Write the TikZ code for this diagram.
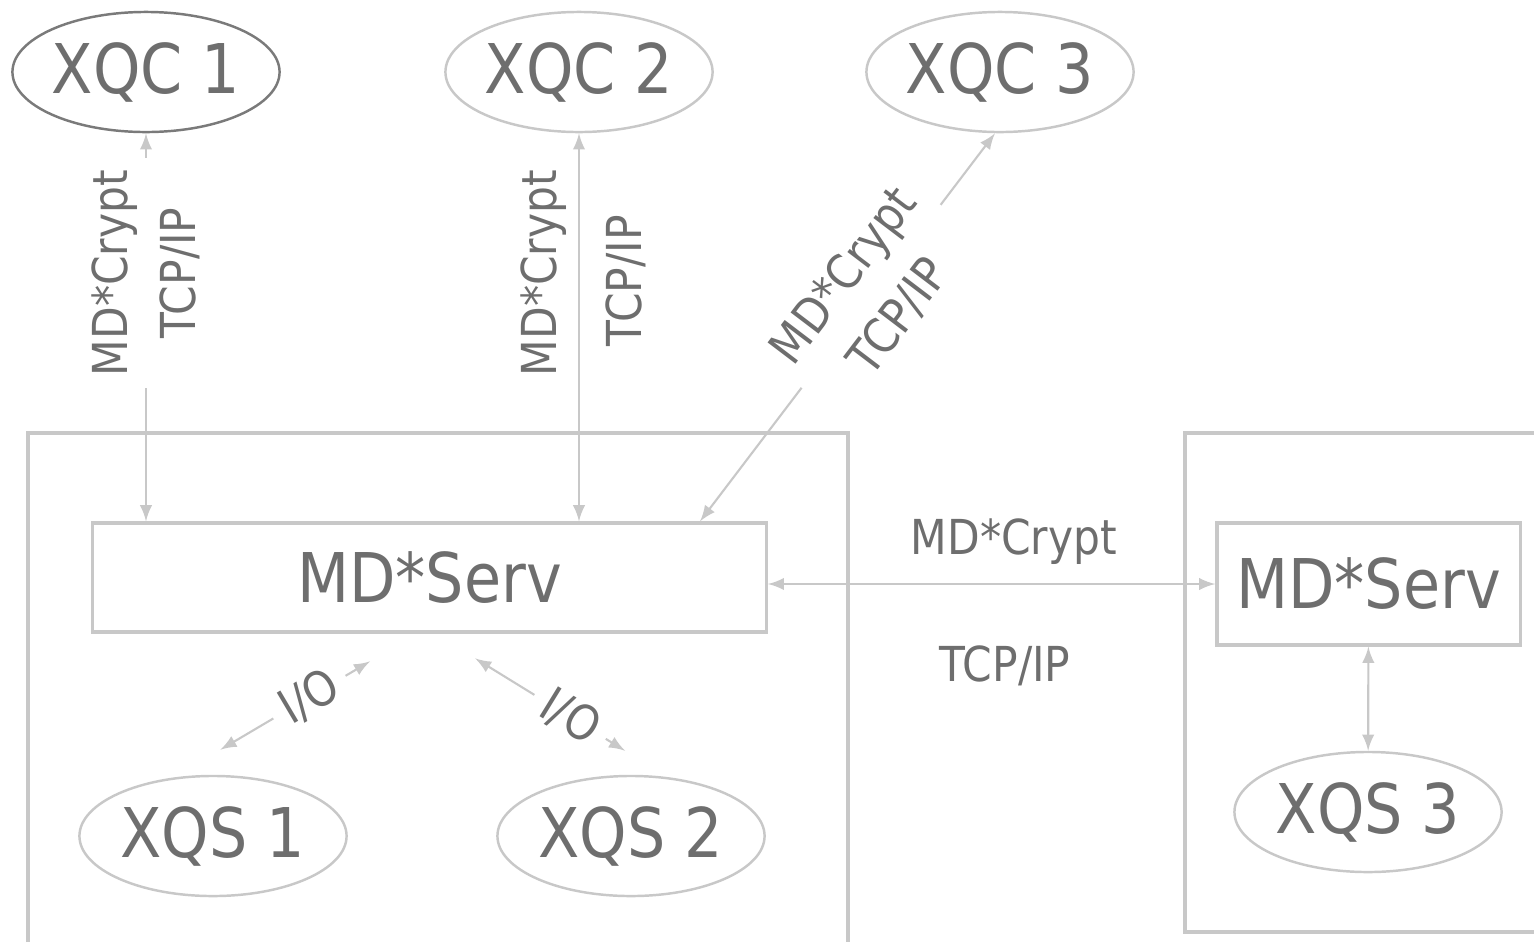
\documentclass[tikz,border=0pt]{standalone}
\usepackage{fontspec}
\setmainfont{DejaVu Sans}[FakeStretch=0.88]
\usetikzlibrary{shapes.geometric,calc}
\definecolor{linegray}{HTML}{C8C8C8}
\definecolor{textgray}{HTML}{6E6E6E}
\definecolor{rimgray}{HTML}{7A7A7A}

\begin{document}
\begin{tikzpicture}[x=0.01cm, y=-0.01cm, >=latex,
    station/.style={ellipse, draw=linegray, line width=0.7pt, inner sep=0pt,
        minimum width=2.67cm, minimum height=1.2cm, text=textgray,
        font=\fontsize{19.5}{23}\selectfont},
    serv/.style={rectangle, draw=linegray, line width=0.9pt, text=textgray,
        font=\fontsize{19.5}{23}\selectfont},
    link/.style={draw=linegray, line width=0.6pt, <->},
    proto/.style={text=textgray, font=\fontsize{13.7}{19.5}\selectfont, align=center}]

    \useasboundingbox (0,0) rectangle (1534,942);

    % host frames
    \draw[linegray, line width=0.9pt] (28,942) -- (28,433) -- (848,433) -- (848,942);
    \draw[linegray, line width=0.9pt] (1534,433) -- (1185,433) -- (1185,932) -- (1534,932);

    % clients
    \node[station, draw=rimgray] (xqc1) at (146,72) {XQC 1};
    \node[station] (xqc2) at (579,72) {XQC 2};
    \node[station] (xqc3) at (1000,72) {XQC 3};

    % servers
    \node[serv, minimum width=6.73cm, minimum height=1.09cm] (lserv) at (429.5,577.5) {MD*Serv};
    \node[serv, minimum width=3.03cm, minimum height=1.22cm] (rserv) at (1368.5,584) {MD*Serv};

    % storage
    \node[station] (xqs1) at (213,836) {XQS 1};
    \node[station] (xqs2) at (631,836) {XQS 2};
    \node[station] (xqs3) at (1368,812) {XQS 3};

    % client links
    \draw[link] (xqc1 |- lserv.north) -- (xqc1)
        node[proto, pos=0.64, sloped, fill=white] {MD*Crypt\\TCP/IP};
    \draw[link] (xqc2 |- lserv.north) -- (xqc2)
        node[proto, pos=0.64, sloped, above] {MD*Crypt}
        node[proto, pos=0.62, sloped, below=4pt] {TCP/IP};
    \draw[link] ($(lserv.north)+(270.5,0)$) -- ($(xqc3.south)+(-5,0)$)
        node[proto, pos=0.58, sloped, fill=white] {MD*Crypt\\TCP/IP};

    % server links
    \draw[link] (rserv.west -| lserv.east) -- (rserv.west)
        node[proto, pos=0.55, above=2pt] {MD*Crypt}
        node[proto, pos=0.53, below=14pt] {TCP/IP};
    \draw[link] (rserv) -- (xqs3);

    % storage links
    \draw[link, shorten <=14pt, shorten >=15.5pt] ($(xqs1.north)+(-35,0)$) -- ($(lserv.south)+(-12.5,0)$)
        node[proto, pos=0.55, sloped, fill=white] {I/O};
    \draw[link, shorten <=13.4pt, shorten >=13pt] ($(lserv.south)+(5.5,0)$) -- ($(xqs2.north)+(33,0)$)
        node[proto, pos=0.59, sloped, fill=white] {I/O};
\end{tikzpicture}
\end{document}
